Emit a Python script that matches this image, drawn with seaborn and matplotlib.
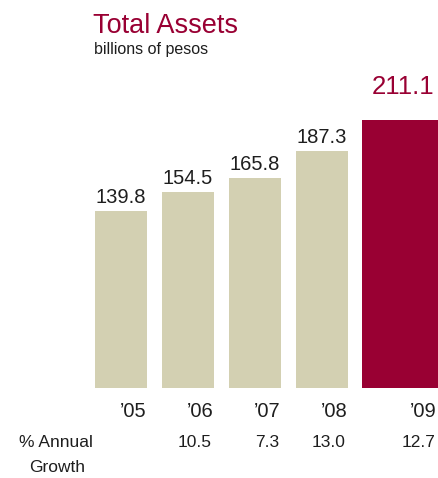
import matplotlib
matplotlib.use("Agg")
import matplotlib.pyplot as plt
import matplotlib.transforms as mtransforms
import seaborn as sns
import pandas as pd

# Data
years = ["\u201905", "\u201906", "\u201907", "\u201908", "\u201909"]
total_assets = [139.8, 154.5, 165.8, 187.3, 211.1]
growth_labels = ["", "10.5", "7.3", "13.0", "12.7"]

TITLE = "Total Assets"
SUBTITLE = "billions of pesos"

BEIGE = "#d3d0b2"
CRIMSON = "#990033"
TEXT = "#1e1e1e"

sns.set_theme(style="white")
plt.rcParams["font.family"] = ["Liberation Sans", "DejaVu Sans"]

W, H = 439, 478
fig = plt.figure(figsize=(W / 100, H / 100), dpi=100)
fig.patch.set_facecolor("white")

def fy(px):
    return 1 - px / H

base_px = 388
ax = fig.add_axes([0, fy(base_px), 1, base_px / H])
ax.set_facecolor("white")

df = pd.DataFrame({"year": years, "value": total_assets})
palette = {y: (CRIMSON if i == len(years) - 1 else BEIGE) for i, y in enumerate(years)}
sns.barplot(data=df, x="year", y="value", hue="year", palette=palette,
            width=0.776, legend=False, saturation=1, linewidth=0, ax=ax)

# widen and shift the latest year's bar
last = ax.patches[-1]
last.set_width(1.12)
last.set_x(4.164 - 1.12 / 2)

ax.set_xlim(-121 / 67, (W - 121) / 67)
ax.set_ylim(0, base_px / 1.268)
ax.axis("off")

blend = mtransforms.blended_transform_factory(ax.transData, fig.transFigure)

for i, p in enumerate(ax.patches):
    cx = p.get_x() + p.get_width() / 2
    right = p.get_x() + p.get_width()
    val = total_assets[i]
    if i == len(years) - 1:
        ax.annotate(f"{val:.1f}", (cx + 0.05, val), xytext=(0, 15), textcoords="offset points",
                    ha="center", va="bottom", fontsize=18.5, color=CRIMSON)
    else:
        ax.annotate(f"{val:.1f}", (cx, val), xytext=(0, 5.5), textcoords="offset points",
                    ha="center", va="baseline", fontsize=14.5, color=TEXT)
    ax.text(right - 0.01, fy(417), years[i], transform=blend, ha="right", va="baseline",
            fontsize=14.5, color=TEXT)
    if growth_labels[i]:
        ax.text(right - 0.03, fy(447), growth_labels[i], transform=blend, ha="right",
                va="baseline", fontsize=12.5, color=TEXT)

fig.text(56 / W, fy(447), "% Annual", ha="center", va="baseline", fontsize=12.5, color=TEXT)
fig.text(57 / W, fy(472), "Growth", ha="center", va="baseline", fontsize=12.5, color=TEXT)

fig.text(93 / W, fy(33), TITLE, ha="left", va="baseline", fontsize=19.5, color=CRIMSON)
fig.text(94 / W, fy(54), SUBTITLE, ha="left", va="baseline", fontsize=11.5, color=TEXT)

fig.savefig("out.png", dpi=100, facecolor="white")
